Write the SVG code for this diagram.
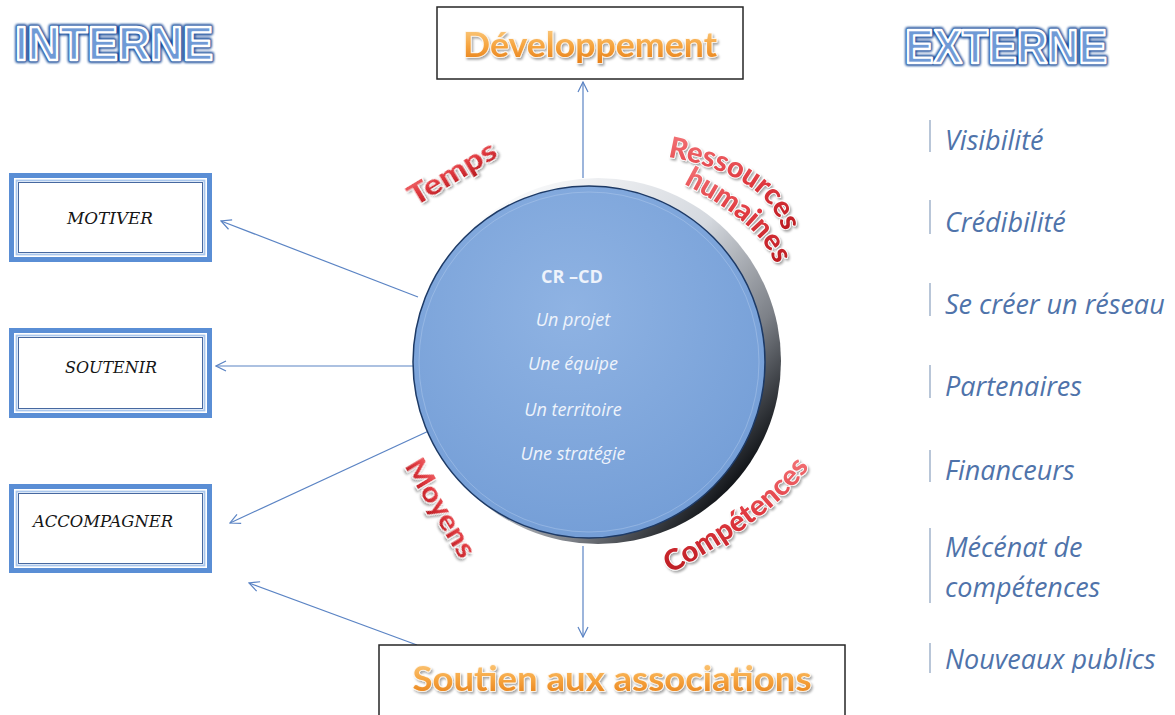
<svg xmlns="http://www.w3.org/2000/svg" width="1175" height="715" viewBox="0 0 1175 715">
<defs>
<style>
.title{font-family:"Liberation Sans",Arial,sans-serif;font-weight:bold;font-size:48px}
.tglow{fill:#1f4f9c;stroke:#1f4f9c;stroke-width:6;stroke-linejoin:round;filter:url(#blur1)}
.tface{fill:#6f9ad6;stroke:#ffffff;stroke-width:2.4;stroke-linejoin:round}
.orange{font-family:Lato,"Liberation Sans",sans-serif;font-weight:bold;fill:url(#gOrange);stroke:#fff6ea;stroke-width:1.6;paint-order:stroke;stroke-linejoin:round;filter:url(#shadow);text-anchor:middle}
.red{font-family:Lato,"Liberation Sans",sans-serif;font-weight:900;font-size:29px;fill:url(#gRed);stroke:#ffffff;stroke-width:1.6;paint-order:stroke;stroke-linejoin:round;filter:url(#shadow)}
.box-outer{fill:#ffffff;stroke:#5a8ed5;stroke-width:5}
.box-mid{fill:none;stroke:#a9c6ec;stroke-width:1.8}
.box-in{fill:none;stroke:#4668a0;stroke-width:1}
.boxlbl{font-family:"DejaVu Serif","Liberation Serif",serif;font-style:italic;font-size:17px;fill:#151515}
.conn{stroke:#5b84c4;stroke-width:1.2;fill:none;marker-end:url(#arr)}
.ctr{font-family:"Open Sans","Liberation Sans",sans-serif;font-size:18px;fill:#eef3fb;text-anchor:middle}
.ext{font-family:"Open Sans","Liberation Sans",sans-serif;font-style:italic;font-size:27px;fill:#4f73aa}
.bar{stroke:#a7b8cf;stroke-width:1.6}
.frame{fill:#ffffff;stroke:#262626;stroke-width:1.5}
</style>
<marker id="arr" viewBox="0 0 12 12" refX="11" refY="6" markerWidth="12" markerHeight="12" markerUnits="userSpaceOnUse" orient="auto">
<path d="M1,1 L11,6 L1,11" fill="none" stroke="#5b84c4" stroke-width="1.2"/>
</marker>
<linearGradient id="gOrange" x1="0" y1="0" x2="0" y2="1">
<stop offset="0" stop-color="#fcd491"/><stop offset="0.55" stop-color="#f6a540"/><stop offset="1" stop-color="#e57c16"/>
</linearGradient>
<linearGradient id="gRed" x1="0" y1="0" x2="0" y2="1">
<stop offset="0" stop-color="#f57a7d"/><stop offset="0.5" stop-color="#e03a40"/><stop offset="1" stop-color="#b81a20"/>
</linearGradient>
<linearGradient id="gRim" x1="0.15" y1="0.05" x2="0.95" y2="0.75">
<stop offset="0" stop-color="#ffffff"/><stop offset="0.5" stop-color="#d5d9df"/><stop offset="0.78" stop-color="#7c8087"/><stop offset="1" stop-color="#111418"/>
</linearGradient>
<radialGradient id="gBlue" cx="0.45" cy="0.35" r="0.7">
<stop offset="0" stop-color="#8fb3e3"/><stop offset="1" stop-color="#739dd6"/>
</radialGradient>
<filter id="shadow" x="-20%" y="-30%" width="140%" height="170%">
<feDropShadow dx="1.5" dy="2" stdDeviation="1.2" flood-color="#000000" flood-opacity="0.35"/>
</filter>
<filter id="blur1" x="-10%" y="-30%" width="120%" height="160%">
<feGaussianBlur stdDeviation="1.2"/>
</filter>
<clipPath id="clipR"><rect x="900" y="90" width="275" height="583"/></clipPath>
<path id="pRes" d="M663,156 Q771,174 784,236"/>
<path id="pHum" d="M680,182 Q765,225 776,268"/>
<path id="pComp" d="M669,574 Q774,518 810,466"/>
</defs>
<rect width="1175" height="715" fill="#ffffff"/>

<g id="title-interne">
<text class="title tglow" x="15" y="60" textLength="198" lengthAdjust="spacingAndGlyphs">INTERNE</text>
<text class="title tface" x="15" y="60" textLength="198" lengthAdjust="spacingAndGlyphs">INTERNE</text>
</g>
<g id="title-externe">
<text class="title tglow" x="905" y="63" textLength="202" lengthAdjust="spacingAndGlyphs">EXTERNE</text>
<text class="title tface" x="905" y="63" textLength="202" lengthAdjust="spacingAndGlyphs">EXTERNE</text>
</g>

<g id="connectors">
<path class="conn" d="M583,178 L583,82"/>
<path class="conn" d="M583,546 L583,637"/>
<path class="conn" d="M418,297 L221,221"/>
<path class="conn" d="M413,366 L216,366"/>
<path class="conn" d="M433,429 L230,523"/>
<path class="conn" d="M417,645 L249,583"/>
</g>

<g id="node-developpement">
<rect class="frame" x="437" y="7" width="306" height="72"/>
<text class="orange" x="590" y="57" font-size="34" textLength="254" lengthAdjust="spacingAndGlyphs">Développement</text>
</g>

<g id="node-soutien">
<rect class="frame" x="379" y="645" width="466" height="90"/>
<text class="orange" x="612" y="691" font-size="35" textLength="399" lengthAdjust="spacingAndGlyphs">Soutien aux associations</text>
</g>

<g id="node-motiver">
<rect class="box-outer" x="11.5" y="175.5" width="198" height="84"/>
<rect class="box-mid" x="16.5" y="180.5" width="188" height="74"/>
<rect class="box-in" x="18.5" y="182.5" width="184" height="70"/>
<text class="boxlbl" x="110" y="224" text-anchor="middle" textLength="86" lengthAdjust="spacingAndGlyphs">MOTIVER</text>
</g>

<g id="node-soutenir">
<rect class="box-outer" x="11.5" y="330.5" width="198" height="85"/>
<rect class="box-mid" x="16.5" y="335.5" width="188" height="75"/>
<rect class="box-in" x="18.5" y="337.5" width="184" height="71"/>
<text class="boxlbl" x="111" y="373" text-anchor="middle" textLength="92" lengthAdjust="spacingAndGlyphs">SOUTENIR</text>
</g>

<g id="node-accompagner">
<rect class="box-outer" x="11.5" y="486.5" width="198" height="84"/>
<rect class="box-mid" x="16.5" y="491.5" width="188" height="74"/>
<rect class="box-in" x="18.5" y="493.5" width="184" height="70"/>
<text class="boxlbl" x="33" y="527" textLength="140" lengthAdjust="spacingAndGlyphs">ACCOMPAGNER</text>
</g>

<g id="node-center">
<circle cx="598" cy="361" r="183" fill="url(#gRim)"/>
<circle cx="589" cy="362" r="176" fill="url(#gBlue)" stroke="#1d3a66" stroke-width="1.5"/>
<circle cx="589" cy="362" r="170" fill="none" stroke="#b3cbee" stroke-opacity="0.45" stroke-width="1"/>
<text class="ctr" x="572" y="283" font-weight="bold" font-size="17">CR –CD</text>
<text class="ctr" x="573" y="326" font-style="italic">Un projet</text>
<text class="ctr" x="573" y="370" font-style="italic">Une équipe</text>
<text class="ctr" x="573" y="416" font-style="italic">Un territoire</text>
<text class="ctr" x="573" y="460" font-style="italic">Une stratégie</text>
</g>

<g id="labels">
<text class="red" transform="translate(452,173) rotate(-31)" x="0" y="10" text-anchor="middle" textLength="98" lengthAdjust="spacingAndGlyphs">Temps</text>
<text class="red" transform="translate(441,508) rotate(59)" x="0" y="10" text-anchor="middle" textLength="110" lengthAdjust="spacingAndGlyphs">Moyens</text>
<text class="red" font-size="26" text-anchor="middle"><textPath href="#pRes" startOffset="50%">Ressources</textPath></text>
<text class="red" font-size="26" text-anchor="middle"><textPath href="#pHum" startOffset="50%">humaines</textPath></text>
<text class="red" font-size="26" text-anchor="middle"><textPath href="#pComp" startOffset="50%">Compétences</textPath></text>
</g>

<g id="externe-list" clip-path="url(#clipR)">
<line class="bar" x1="930" y1="120" x2="930" y2="152"/>
<text class="ext" x="945" y="150">Visibilité</text>
<line class="bar" x1="930" y1="200" x2="930" y2="234"/>
<text class="ext" x="945" y="232">Crédibilité</text>
<line class="bar" x1="930" y1="283" x2="930" y2="316"/>
<text class="ext" x="945" y="314">Se créer un réseau</text>
<line class="bar" x1="930" y1="365" x2="930" y2="398"/>
<text class="ext" x="945" y="396">Partenaires</text>
<line class="bar" x1="930" y1="450" x2="930" y2="482"/>
<text class="ext" x="945" y="480">Financeurs</text>
<line class="bar" x1="930" y1="528" x2="930" y2="603"/>
<text class="ext" x="945" y="557">Mécénat de</text>
<text class="ext" x="945" y="597">compétences</text>
<line class="bar" x1="930" y1="643" x2="930" y2="673"/>
<text class="ext" x="945" y="669">Nouveaux publics</text>
</g>
</svg>
